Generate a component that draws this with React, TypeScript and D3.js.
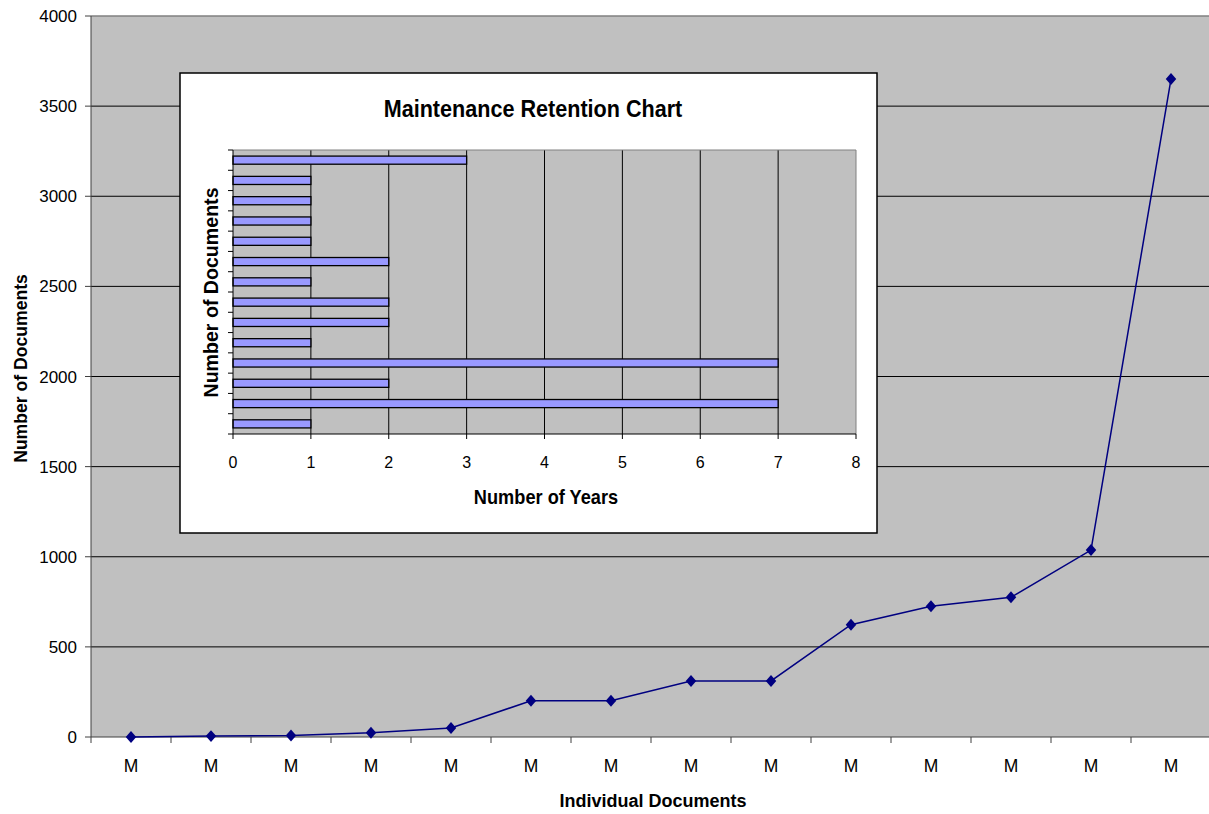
import React from "react";
import * as d3 from "d3";

// Main line series: cumulative document counts per category
const docLabels = ["M", "M", "M", "M", "M", "M", "M", "M", "M", "M", "M", "M", "M", "M"];
const docCounts = [0, 5, 8, 24, 50, 201, 201, 311, 311, 623, 725, 775, 1037, 3650];
const mainYTicks = [0, 500, 1000, 1500, 2000, 2500, 3000, 3500, 4000];

// Inset bar series: retention years per document group (top to bottom)
const retentionYears = [3, 1, 1, 1, 1, 2, 1, 2, 2, 1, 7, 2, 7, 1];
const insetXTicks = [0, 1, 2, 3, 4, 5, 6, 7, 8];

const W = 1209;
const H = 814;
const FONT = "'Liberation Sans', Arial, sans-serif";

export default function App() {
  // main plot geometry
  const m = { left: 91, top: 16, right: 1211, bottom: 737 };
  const x = d3
    .scaleBand<number>()
    .domain(d3.range(docCounts.length))
    .range([m.left, m.right])
    .padding(0);
  const y = d3.scaleLinear().domain([0, 4000]).range([m.bottom, m.top]);
  const cx = (i: number) => (x(i) as number) + x.bandwidth() / 2;
  const line = d3
    .line<number>()
    .x((_, i) => cx(i))
    .y((d) => y(d));

  // inset geometry
  const box = { x: 180, y: 73, w: 697, h: 460 };
  const ip = { left: 233, top: 150, right: 856, bottom: 434 };
  const ix = d3.scaleLinear().domain([0, 8]).range([ip.left, ip.right]);
  const iy = d3
    .scaleBand<number>()
    .domain(d3.range(retentionYears.length))
    .range([ip.top, ip.bottom])
    .paddingInner(0.6)
    .paddingOuter(0.3);
  const bandStep = (ip.bottom - ip.top) / retentionYears.length;

  const diamond = d3.symbol().type(d3.symbolDiamond2).size(78)();

  return (
    <svg
      width={W}
      height={H}
      style={{ position: "absolute", left: 0, top: 0, background: "#fff" }}
      fontFamily={FONT}
    >
      {/* main plot area */}
      <rect x={m.left} y={m.top} width={m.right - m.left} height={m.bottom - m.top} fill="#c0c0c0" />
      {mainYTicks.slice(1, -1).map((t) => (
        <line key={t} x1={m.left} x2={m.right} y1={y(t)} y2={y(t)} stroke="#000" strokeWidth={1} />
      ))}
      <line x1={m.left} x2={m.right} y1={y(4000)} y2={y(4000)} stroke="#808080" strokeWidth={1.5} />
      {/* y axis */}
      <line x1={m.left} x2={m.left} y1={m.top} y2={m.bottom} stroke="#404040" strokeWidth={1} />
      {mainYTicks.map((t) => (
        <g key={t}>
          <line x1={m.left - 6} x2={m.left} y1={y(t)} y2={y(t)} stroke="#404040" />
          <text x={m.left - 14} y={y(t)} dy="0.36em" textAnchor="end" fontSize={17} fill="#000">
            {t}
          </text>
        </g>
      ))}
      {/* x axis */}
      <line x1={m.left} x2={m.right} y1={m.bottom} y2={m.bottom} stroke="#404040" strokeWidth={1} />
      {docLabels.map((lab, i) => (
        <g key={i}>
          <line x1={x(i) as number} x2={x(i) as number} y1={m.bottom} y2={m.bottom + 6} stroke="#404040" />
          <text x={cx(i)} y={772} textAnchor="middle" fontSize={17.5} fill="#000">
            {lab}
          </text>
        </g>
      ))}
      <text x={653} y={807} textAnchor="middle" fontSize={18} fontWeight="bold">
        Individual Documents
      </text>
      <text
        transform={`translate(27,368.5) rotate(-90)`}
        textAnchor="middle"
        fontSize={17.6}
        fontWeight="bold"
      >
        Number of Documents
      </text>

      {/* line series */}
      <path d={line(docCounts) as string} fill="none" stroke="#000080" strokeWidth={1.5} />
      {docCounts.map((d, i) => (
        <path
          key={i}
          d={diamond as string}
          transform={`translate(${cx(i)},${y(d)}) scale(0.95,1.08)`}
          fill="#000080"
        />
      ))}

      {/* inset chart */}
      <rect x={box.x} y={box.y} width={box.w} height={box.h} fill="#fff" stroke="#000" strokeWidth={1.5} />
      <text
        transform="translate(533,116.5) scale(1,1.1)"
        textAnchor="middle"
        fontSize={21.6}
        fontWeight="bold"
      >
        Maintenance Retention Chart
      </text>
      <rect x={ip.left} y={ip.top} width={ip.right - ip.left} height={ip.bottom - ip.top} fill="#c0c0c0" />
      {insetXTicks.slice(1, -1).map((t) => (
        <line key={t} x1={ix(t)} x2={ix(t)} y1={ip.top} y2={ip.bottom} stroke="#000" strokeWidth={1} />
      ))}
      <line x1={ip.left} x2={ip.right} y1={ip.top} y2={ip.top} stroke="#808080" strokeWidth={1} />
      <line x1={ip.right} x2={ip.right} y1={ip.top} y2={ip.bottom} stroke="#808080" strokeWidth={1} />
      {retentionYears.map((v, i) => (
        <rect
          key={i}
          x={ix(0)}
          y={iy(i) as number}
          width={ix(v) - ix(0)}
          height={iy.bandwidth()}
          fill="#9999ff"
          stroke="#000"
          strokeWidth={1.3}
        />
      ))}
      {/* inset y axis */}
      <line x1={ip.left} x2={ip.left} y1={ip.top} y2={ip.bottom} stroke="#000" />
      {d3.range(retentionYears.length + 1).map((k) => (
        <line
          key={k}
          x1={ip.left - 5}
          x2={ip.left}
          y1={ip.top + k * bandStep}
          y2={ip.top + k * bandStep}
          stroke="#000"
        />
      ))}
      {/* inset x axis */}
      <line x1={ip.left} x2={ip.right} y1={ip.bottom} y2={ip.bottom} stroke="#000" />
      {insetXTicks.map((t) => (
        <g key={t}>
          <line x1={ix(t)} x2={ix(t)} y1={ip.bottom} y2={ip.bottom + 5} stroke="#000" />
          <text x={ix(t)} y={468} textAnchor="middle" fontSize={16}>
            {t}
          </text>
        </g>
      ))}
      <text
        transform="translate(546,504) scale(1,1.1)"
        textAnchor="middle"
        fontSize={18.2}
        fontWeight="bold"
      >
        Number of Years
      </text>
      <text
        transform={`translate(218,292.5) rotate(-90) scale(1,1.04)`}
        textAnchor="middle"
        fontSize={19.6}
        fontWeight="bold"
      >
        Number of Documents
      </text>
    </svg>
  );
}
